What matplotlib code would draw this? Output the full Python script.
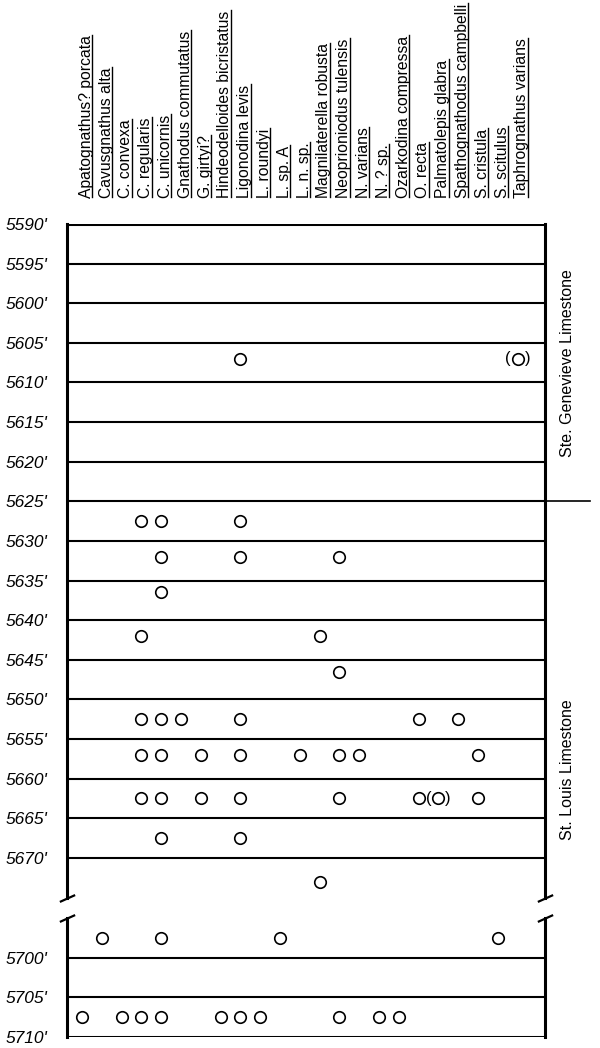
import numpy as np
import matplotlib
matplotlib.use('Agg')
import matplotlib.pyplot as plt
from matplotlib.lines import Line2D

# conodont taxa, one column each
taxa = [
    'Apatognathus? porcata', 'Cavusgnathus alta', 'C. convexa', 'C. regularis',
    'C. unicornis', 'Gnathodus commutatus', 'G. girtyi?', 'Hindeodelloides bicristatus',
    'Ligonodina levis', 'L. roundyi', 'L. sp. A', 'L. n. sp.', 'Magnilaterella robusta',
    'Neoprioniodus tulensis', 'N. varians', 'N. ? sp.', 'Ozarkodina compressa',
    'O. recta', 'Palmatolepis glabra', 'Spathognathodus campbelli', 'S. cristula',
    'S. scitulus', 'Taphrognathus varians',
]

# sample depths (ft) and the taxa found in each (column index)
sample_depths = [5607, 5627.5, 5632, 5636.5, 5642, 5646.5, 5652.5, 5657, 5662.5,
                 5667.5, 5673, 5697.5, 5707.5]
present = [
    [8],
    [3, 4, 8],
    [4, 8, 13],
    [4],
    [3, 12],
    [13],
    [3, 4, 5, 8, 17, 19],
    [3, 4, 6, 8, 11, 13, 14, 20],
    [3, 4, 6, 8, 13, 17, 20],
    [4, 8],
    [12],
    [1, 4, 10, 21],
    [0, 2, 3, 4, 7, 8, 9, 13, 15, 16],
]
# questionable identifications, shown as (O)
doubtful_depths = [5607, 5662.5]
doubtful_taxa = [22, 18]

depth_ticks = [5590, 5595, 5600, 5605, 5610, 5615, 5620, 5625, 5630, 5635, 5640,
               5645, 5650, 5655, 5660, 5665, 5670, 5700, 5705, 5710]
formations = ['Ste. Genevieve Limestone', 'St. Louis Limestone']
formation_tops = [5590, 5625]
total_depth = 5710

# broken depth axis: the 5675-5695 interval is squeezed
BREAK_TOP, BREAK_BOT, SQUEEZE = 5675, 5695, 2.6


def fwd(d):
    return np.interp(d, [0, BREAK_TOP, BREAK_BOT, 20000],
                     [0, BREAK_TOP, BREAK_TOP + SQUEEZE, 20000 - (BREAK_BOT - BREAK_TOP - SQUEEZE)])


def inv(p):
    return np.interp(p, [0, BREAK_TOP, BREAK_TOP + SQUEEZE, 20000 - (BREAK_BOT - BREAK_TOP - SQUEEZE)],
                     [0, BREAK_TOP, BREAK_BOT, 20000])


FONT = 'Liberation Sans'

fig = plt.figure(figsize=(6, 10.48), dpi=100)
ax = fig.add_axes([67 / 600, 1 - 1037 / 1048, 478 / 600, 813 / 1048])
ax.set_yscale('function', functions=(fwd, inv))
ax.set_ylim(total_depth, formation_tops[0])
ax.set_xlim(-0.76, len(taxa) + 0.38)
for s in ax.spines.values():
    s.set_visible(False)
ax.set_xticks([])
ax.set_yticks(depth_ticks)
ax.set_yticklabels([f"{d}'" for d in depth_ticks], fontsize=12.5, style='italic', family=FONT)
ax.tick_params(axis='y', length=0, pad=14)

# interval lines and box
for d in depth_ticks[1:-1]:
    ax.axhline(d, color='black', lw=1.5, zorder=1)
ax.axhline(formation_tops[0], color='black', lw=2.2)
ax.axhline(total_depth, color='black', lw=2.2)
yt = ax.get_yaxis_transform()
for xs in (0, 1):
    ax.plot([xs, xs], [formation_tops[0], BREAK_TOP], color='black', lw=2.2, transform=yt, clip_on=False)
    ax.plot([xs, xs], [BREAK_BOT, total_depth], color='black', lw=2.2, transform=yt, clip_on=False)
    ax.plot([xs, xs], [BREAK_TOP, BREAK_BOT], ls='none', marker=[(-1, -0.45), (1, 0.45)],
            ms=11, mew=1.6, color='black', transform=yt, clip_on=False)

# formation boundary runs out past the column
ax.plot([0, 1.094], [formation_tops[1]] * 2, color='black', lw=1.2, transform=yt, clip_on=False)
bottoms = [fwd(formation_tops[1]), fwd(total_depth)]
for name, top, bot in zip(formations, formation_tops, bottoms):
    mid = inv((fwd(top) + bot) / 2)
    ax.text(1.048, mid, name, transform=yt, rotation=90, ha='center', va='center',
            fontsize=11.5, family=FONT, clip_on=False)

# occurrences
xs, ys = [], []
for d, cols in zip(sample_depths, present):
    xs += cols
    ys += [d] * len(cols)
ax.plot(xs, ys, 'o', mfc='white', mec='black', ms=8.3, mew=1.2, ls='none', zorder=3)
ax.plot(doubtful_taxa, doubtful_depths, 'o', mfc='white', mec='black', ms=8.3, mew=1.2,
        ls='none', zorder=3)
for x, d in zip(doubtful_taxa, doubtful_depths):
    ax.annotate('(', (x, d), xytext=(-7, 0), textcoords='offset points', ha='center',
                va='center', fontsize=12, family=FONT)
    ax.annotate(')', (x, d), xytext=(7, 0), textcoords='offset points', ha='center',
                va='center', fontsize=12, family=FONT)

# rotated, underlined taxon headers
headers = []
for i, name in enumerate(taxa):
    t = ax.annotate(name, (i, 1), xycoords=('data', 'axes fraction'), xytext=(3, 19),
                    textcoords='offset points', rotation=90, ha='center', va='bottom',
                    fontsize=11.3, family=FONT)
    headers.append(t)
fig.canvas.draw()
r = fig.canvas.get_renderer()
to_fig = fig.transFigure.inverted()
for t in headers:
    bb = t.get_window_extent(r)
    (x0, y0), (x1, y1) = to_fig.transform([(bb.x1 - 1.5, bb.y0 + 1), (bb.x1 - 1.5, bb.y1)])
    fig.add_artist(Line2D([x0, x1], [y0, y1], color='black', lw=1.0))

fig.savefig('out.png', dpi=100)
